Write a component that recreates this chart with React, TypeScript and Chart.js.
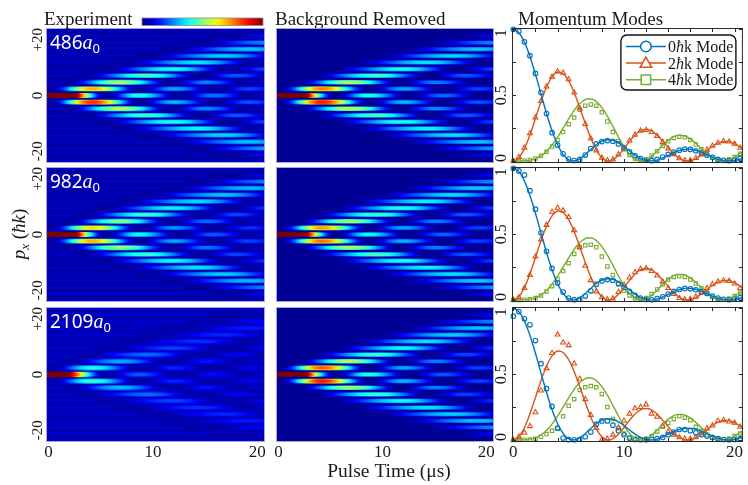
import React, { useEffect, useRef } from 'react';
import { Chart, registerables } from 'chart.js';

Chart.register(...registerables);

// ---------------- data ----------------
const COLUMN_TITLES = ['Experiment', 'Background Removed', 'Momentum Modes'];
const SCATTERING_LENGTHS = ['486', '982', '2109'];
const MODE_ORDERS = ['0', '2', '4'];
const TIME_LABEL_TICKS = [0, 10, 20];
const TIME_MINOR_TICKS = [0, 2, 4, 6, 8, 10, 12, 14, 16, 18, 20];
const MOMENTUM_TICKS = [20, 0, -20];
const MOMENTUM_TICK_LABELS = ['+20', '0', '-20'];
const POPULATION_TICKS = [0, 0.5, 1];
const POPULATION_TICK_LABELS = ['0', '0.5', '1'];
const POPULATION_MINOR_TICKS = [0, 0.25, 0.5, 0.75, 1];
const ORDER_STEP = 2.37;
const FLOOR_ORDERS = [-10, -9, -8, -7, -6, -5, -4, -3, -2, -1, 0, 1, 2, 3, 4, 5, 6, 7, 8, 9, 10];

// fitted curves (population vs pulse time)
const FIT_TIME = [0, 0.449, 0.899, 1.348, 1.798, 2.247, 2.697, 3.146, 3.596, 4.045, 4.494, 4.944, 5.393, 5.843, 6.292, 6.742, 7.191, 7.64, 8.09, 8.539, 8.989, 9.438, 9.888, 10.337, 10.787, 11.236, 11.685, 12.135, 12.584, 13.034, 13.483, 13.933, 14.382, 14.831, 15.281, 15.73, 16.18, 16.629, 17.079, 17.528, 17.978, 18.427, 18.876, 19.326, 19.775, 20.225, 20.674];
const FIT_0HK = [1.0, 0.98, 0.922, 0.832, 0.716, 0.586, 0.45, 0.321, 0.207, 0.116, 0.05, 0.012, 0.0, 0.009, 0.034, 0.068, 0.103, 0.133, 0.154, 0.162, 0.158, 0.142, 0.117, 0.088, 0.058, 0.032, 0.012, 0.002, 0.001, 0.008, 0.023, 0.041, 0.059, 0.075, 0.086, 0.09, 0.087, 0.078, 0.063, 0.046, 0.03, 0.015, 0.005, 0.0, 0.002, 0.008, 0.019];
const FIT_2HK = [0, 0.02, 0.077, 0.164, 0.272, 0.387, 0.497, 0.587, 0.65, 0.676, 0.665, 0.618, 0.541, 0.443, 0.336, 0.23, 0.137, 0.064, 0.018, 0.0, 0.009, 0.038, 0.082, 0.132, 0.178, 0.215, 0.236, 0.239, 0.224, 0.193, 0.153, 0.109, 0.066, 0.031, 0.009, 0.0, 0.006, 0.024, 0.051, 0.081, 0.11, 0.133, 0.147, 0.149, 0.14, 0.12, 0.095];
const FIT_4HK = [0, 0.0, 0.001, 0.004, 0.012, 0.026, 0.051, 0.086, 0.132, 0.187, 0.249, 0.312, 0.372, 0.421, 0.456, 0.473, 0.468, 0.441, 0.396, 0.335, 0.265, 0.193, 0.125, 0.068, 0.027, 0.004, 0.001, 0.015, 0.043, 0.079, 0.118, 0.153, 0.18, 0.195, 0.195, 0.182, 0.157, 0.124, 0.088, 0.054, 0.026, 0.007, 0.0, 0.005, 0.02, 0.042, 0.068];

// measured populations
const DATA_TIME = [0, 0.5, 1, 1.5, 2, 2.5, 3, 3.5, 4, 4.5, 5, 5.5, 6, 6.5, 7, 7.5, 8, 8.5, 9, 9.5, 10, 10.5, 11, 11.5, 12, 12.5, 13, 13.5, 14, 14.5, 15, 15.5, 16, 16.5, 17, 17.5, 18, 18.5, 19, 19.5, 20, 20.5];
const R1_0HK = [1.0, 0.985, 0.905, 0.8, 0.665, 0.52, 0.36, 0.215, 0.12, 0.055, 0.015, 0.004, 0.012, 0.045, 0.095, 0.13, 0.148, 0.155, 0.15, 0.13, 0.1, 0.07, 0.04, 0.018, 0.006, 0.003, 0.012, 0.03, 0.05, 0.068, 0.082, 0.09, 0.088, 0.078, 0.062, 0.045, 0.028, 0.012, 0.005, 0.003, 0.008, 0.02];
const R1_2HK = [0, 0.03, 0.1, 0.21, 0.33, 0.455, 0.565, 0.64, 0.68, 0.67, 0.62, 0.52, 0.4, 0.28, 0.17, 0.08, 0.025, 0.005, 0.012, 0.05, 0.1, 0.155, 0.2, 0.23, 0.235, 0.22, 0.19, 0.145, 0.095, 0.052, 0.02, 0.005, 0.006, 0.022, 0.05, 0.085, 0.115, 0.138, 0.15, 0.148, 0.13, 0.1];
const R1_4HK = [0, 0.001, 0.003, 0.008, 0.02, 0.04, 0.07, 0.11, 0.16, 0.22, 0.28, 0.33, 0.39, 0.42, 0.43, 0.42, 0.37, 0.3, 0.22, 0.15, 0.09, 0.045, 0.015, 0.003, 0.012, 0.04, 0.075, 0.115, 0.15, 0.175, 0.185, 0.18, 0.16, 0.125, 0.09, 0.055, 0.025, 0.008, 0.002, 0.012, 0.03, 0.055];
const R2_0HK = [1.0, 0.98, 0.95, 0.83, 0.69, 0.51, 0.37, 0.24, 0.13, 0.06, 0.015, 0.003, 0.005, 0.03, 0.07, 0.12, 0.145, 0.155, 0.15, 0.125, 0.095, 0.065, 0.035, 0.015, 0.004, 0.002, 0.01, 0.025, 0.045, 0.065, 0.08, 0.088, 0.085, 0.078, 0.065, 0.05, 0.03, 0.015, 0.006, 0.003, 0.008, 0.018];
const R2_2HK = [0, 0.02, 0.09, 0.19, 0.33, 0.46, 0.57, 0.67, 0.7, 0.68, 0.63, 0.53, 0.4, 0.26, 0.15, 0.065, 0.02, 0.004, 0.012, 0.06, 0.115, 0.17, 0.21, 0.235, 0.24, 0.22, 0.185, 0.14, 0.09, 0.045, 0.015, 0.004, 0.008, 0.025, 0.055, 0.09, 0.12, 0.14, 0.148, 0.145, 0.125, 0.09];
const R2_4HK = [0, 0, 0.002, 0.006, 0.015, 0.035, 0.065, 0.105, 0.16, 0.22, 0.28, 0.35, 0.4, 0.415, 0.42, 0.4, 0.33, 0.255, 0.19, 0.12, 0.07, 0.035, 0.012, 0.002, 0.015, 0.045, 0.08, 0.12, 0.155, 0.175, 0.18, 0.175, 0.155, 0.125, 0.09, 0.055, 0.025, 0.008, 0.002, 0.01, 0.03, 0.058];
const R3_0HK = [0.94, 0.975, 0.92, 0.875, 0.755, 0.58, 0.39, 0.255, 0.09, 0.015, 0.003, 0.002, 0.005, 0.025, 0.06, 0.12, 0.145, 0.145, 0.113, 0.07, 0.04, 0.013, 0.004, 0.002, 0.003, 0.006, 0.01, 0.02, 0.04, 0.06, 0.08, 0.08, 0.07, 0.055, 0.04, 0.03, 0.02, 0.01, 0.004, 0.002, 0.004, 0.01];
const R3_2HK = [0, 0.025, 0.055, 0.105, 0.21, 0.375, 0.545, 0.66, 0.8, 0.74, 0.72, 0.58, 0.465, 0.31, 0.19, 0.09, 0.002, 0.01, 0.04, 0.095, 0.146, 0.2, 0.24, 0.25, 0.27, 0.2, 0.176, 0.108, 0.063, 0.04, 0.02, 0.01, 0.01, 0.02, 0.05, 0.088, 0.11, 0.146, 0.15, 0.14, 0.13, 0.1];
const R3_4HK = [0, 0, 0.002, 0.004, 0.01, 0.025, 0.045, 0.07, 0.09, 0.18, 0.26, 0.31, 0.38, 0.4, 0.41, 0.4, 0.35, 0.25, 0.16, 0.09, 0.05, 0.02, 0.01, 0.005, 0.01, 0.03, 0.065, 0.1, 0.13, 0.16, 0.18, 0.17, 0.15, 0.1, 0.07, 0.04, 0.02, 0.008, 0.004, 0.01, 0.03, 0.05];

// heat-map streaks: diffraction order, start / peak / end time (µs)
const LOBE_ORDER = [0, 0, 0, 1, 1, 1, 2, 2, 3, 3, 4, 4, 5, 6, 7, 8, 9];
const LOBE_START = [-0.25, 5.4, 12.4, 0, 8.61, 15.77, 1.5, 11.54, 2.7, 14.34, 4.5, 17.05, 6.3, 8.5, 10.8, 13.0, 15.3];
const LOBE_PEAK = [-0.25, 8.6, 15.8, 4.14, 11.98, 19.2, 6.86, 15.1, 9.44, 17.93, 11.96, 20.9, 14.43, 16.85, 19.28, 21.7, 24.1];
const LOBE_END = [5.4, 12.4, 19.4, 8.61, 15.77, 22.86, 11.54, 18.91, 14.34, 21.93, 17.05, 24.8, 19.71, 22.33, 24.9, 27.0, 29.0];
// peak intensity (colour scale units) for +order / -order
const EXP1_UP = [1.8, 0.4, 0.24, 0.7, 0.29, 0.19, 0.54, 0.25, 0.44, 0.21, 0.39, 0.19, 0.35, 0.33, 0.32, 0.27, 0.18];
const EXP1_DN = [null, null, null, 0.84, 0.31, 0.21, 0.56, 0.26, 0.43, 0.21, 0.4, 0.19, 0.37, 0.34, 0.32, 0.29, 0.18];
const BG1_UP = [1.8, 0.4, 0.23, 0.75, 0.29, 0.19, 0.54, 0.25, 0.43, 0.21, 0.39, 0.19, 0.35, 0.34, 0.32, 0.27, 0.18];
const BG1_DN = [null, null, null, 0.86, 0.31, 0.21, 0.56, 0.26, 0.44, 0.21, 0.4, 0.19, 0.37, 0.35, 0.32, 0.29, 0.18];
const EXP2_UP = [1.8, 0.38, 0.21, 0.66, 0.27, 0.17, 0.5, 0.23, 0.42, 0.19, 0.37, 0.17, 0.34, 0.32, 0.31, 0.26, 0.17];
const EXP2_DN = [null, null, null, 0.7, 0.29, 0.19, 0.53, 0.24, 0.42, 0.19, 0.38, 0.17, 0.35, 0.33, 0.31, 0.26, 0.17];
const BG2_UP = [1.8, 0.38, 0.22, 0.72, 0.29, 0.19, 0.53, 0.25, 0.43, 0.21, 0.4, 0.19, 0.37, 0.35, 0.33, 0.28, 0.18];
const BG2_DN = [null, null, null, 0.77, 0.3, 0.19, 0.55, 0.25, 0.44, 0.21, 0.4, 0.19, 0.37, 0.35, 0.33, 0.28, 0.18];
const EXP3_UP = [1.4, 0.21, 0.13, 0.4, 0.16, 0.11, 0.29, 0.14, 0.23, 0.12, 0.19, 0.11, 0.17, 0.16, 0.15, 0.13, 0.1];
const EXP3_DN = [null, null, null, 0.43, 0.16, 0.11, 0.31, 0.14, 0.23, 0.12, 0.19, 0.11, 0.17, 0.16, 0.15, 0.13, 0.1];
const BG3_UP = [1.8, 0.4, 0.21, 0.79, 0.29, 0.19, 0.54, 0.25, 0.42, 0.19, 0.38, 0.17, 0.35, 0.33, 0.32, 0.27, 0.18];
const BG3_DN = [null, null, null, 0.86, 0.31, 0.19, 0.53, 0.25, 0.42, 0.19, 0.38, 0.17, 0.35, 0.33, 0.32, 0.27, 0.18];

// ---------------- styling ----------------
const FIG_W = 748;
const FIG_H = 485;
const SERIF = '"Liberation Serif", "DejaVu Serif", serif';
const SANS = '"Noto Sans", "DejaVu Sans", sans-serif';
const INK = '#1a1a1a';
const MODE_COLORS = ['#0072BD', '#D95319', '#77AC30'];
const MODE_MARKERS = ['circle', 'triangle', 'rect'];
const MODE_MARKER_R = [2.3, 2.8, 2.4];
const COL_X = [[46, 265], [276, 494], [512, 745]];
const ROW_Y = [[28, 163], [167, 302], [307, 442]];

function jet(v: number): string {
  const x = Math.max(0, Math.min(1, v));
  const c = (u: number) => Math.round(255 * Math.max(0, Math.min(1, u)));
  return `rgb(${c(1.5 - Math.abs(4 * x - 3))},${c(1.5 - Math.abs(4 * x - 2))},${c(1.5 - Math.abs(4 * x - 1))})`;
}

type Seg = { t: string; f: string; dy?: number };
function richWidth(ctx: CanvasRenderingContext2D, segs: Seg[]) {
  let w = 0;
  for (const s of segs) { ctx.font = s.f; w += ctx.measureText(s.t).width; }
  return w;
}
function drawRich(ctx: CanvasRenderingContext2D, segs: Seg[], x: number, y: number) {
  let cx = x;
  ctx.textAlign = 'left';
  ctx.textBaseline = 'alphabetic';
  for (const s of segs) {
    ctx.font = s.f;
    ctx.fillText(s.t, cx, y + (s.dy || 0));
    cx += ctx.measureText(s.t).width;
  }
}
function rotatedText(ctx: CanvasRenderingContext2D, text: string, font: string, cx: number, cy: number) {
  ctx.save();
  ctx.translate(cx, cy);
  ctx.rotate(-Math.PI / 2);
  ctx.font = font;
  ctx.textAlign = 'center';
  ctx.textBaseline = 'middle';
  ctx.fillText(text, 0, 0);
  ctx.restore();
}

function padFor(col: number, row: number) {
  return { left: COL_X[col][0], right: FIG_W - COL_X[col][1], top: ROW_Y[row][0], bottom: FIG_H - ROW_Y[row][1] };
}

function lobeBars(up: (number | null)[], dn: (number | null)[]) {
  const out: any[] = [];
  LOBE_ORDER.forEach((n, i) => {
    if (up[i] != null) out.push({ x: [LOBE_START[i], LOBE_END[i]], peak: LOBE_PEAK[i], y: n * ORDER_STEP, v: up[i] });
    if (n > 0 && dn[i] != null) out.push({ x: [LOBE_START[i], LOBE_END[i]], peak: LOBE_PEAK[i], y: -n * ORDER_STEP, v: dn[i] });
  });
  return out;
}

// soft edge of a streak: dims weak colours, keeps saturated ones
function edgeLevel(val: number, gain: number) {
  return val * gain + (1 - gain) * val * val * val;
}

function lobeFill(gain: number, bg: number) {
  return (c: any) => {
    const raw = c.raw;
    const chart = c.chart;
    if (!raw || !chart.chartArea || !Array.isArray(raw.x)) return jet(bg);
    const xs = chart.scales.x;
    const s = raw.x[0], e = raw.x[1];
    const x0 = xs.getPixelForValue(s), x1 = xs.getPixelForValue(e);
    const g = chart.ctx.createLinearGradient(x0, 0, x1, 0);
    const N = 28;
    for (let k = 0; k <= N; k++) {
      const f = k / N;
      const t = s + f * (e - s);
      let m: number;
      if (t <= raw.peak) {
        const r = raw.peak > s ? (t - s) / (raw.peak - s) : 1;
        m = Math.pow(Math.sin((Math.PI / 2) * r), 2.0);
      } else {
        const r = (e - t) / (e - raw.peak);
        m = Math.pow(Math.sin((Math.PI / 2) * r), 1.5);
      }
      const val = Math.min(1, raw.v * m);
      g.addColorStop(f, jet(Math.max(bg, gain >= 1 ? val : edgeLevel(val, gain))));
    }
    return g;
  };
}

type HeatPanel = { kind: 'heat'; col: number; row: number; up: any[]; dn: any[]; floor: number; bg: number; halo: number; haloGain: number };
type ModePanel = { kind: 'modes'; row: number; data: number[][] };

const PANELS: (HeatPanel | ModePanel)[] = [
  { kind: 'heat', col: 0, row: 0, up: EXP1_UP, dn: EXP1_DN, floor: 0.065, bg: 0.035, halo: 4.2, haloGain: 0.62 },
  { kind: 'heat', col: 1, row: 0, up: BG1_UP, dn: BG1_DN, floor: 0, bg: 0.02, halo: 4.0, haloGain: 0.58 },
  { kind: 'modes', row: 0, data: [R1_0HK, R1_2HK, R1_4HK] },
  { kind: 'heat', col: 0, row: 1, up: EXP2_UP, dn: EXP2_DN, floor: 0.065, bg: 0.035, halo: 4.2, haloGain: 0.62 },
  { kind: 'heat', col: 1, row: 1, up: BG2_UP, dn: BG2_DN, floor: 0, bg: 0.02, halo: 4.0, haloGain: 0.58 },
  { kind: 'modes', row: 1, data: [R2_0HK, R2_2HK, R2_4HK] },
  { kind: 'heat', col: 0, row: 2, up: EXP3_UP, dn: EXP3_DN, floor: 0.075, bg: 0.045, halo: 4.8, haloGain: 0.68 },
  { kind: 'heat', col: 1, row: 2, up: BG3_UP, dn: BG3_DN, floor: 0, bg: 0.02, halo: 4.0, haloGain: 0.58 },
  { kind: 'modes', row: 2, data: [R3_0HK, R3_2HK, R3_4HK] },
];

function drawGlobalText(ctx: CanvasRenderingContext2D) {
  ctx.save();
  ctx.fillStyle = INK;
  ctx.font = `19px ${SERIF}`;
  ctx.textAlign = 'left';
  ctx.textBaseline = 'alphabetic';
  ctx.fillText(COLUMN_TITLES[0], 44, 25);
  ctx.fillText(COLUMN_TITLES[1], 275, 25);
  ctx.fillText(COLUMN_TITLES[2], 518, 25);
  // colour bar
  const g = ctx.createLinearGradient(142, 0, 263, 0);
  for (let k = 0; k <= 20; k++) g.addColorStop(k / 20, jet(k / 20));
  ctx.fillStyle = g;
  ctx.fillRect(142, 18, 121, 7.5);
  ctx.strokeStyle = '#8a8a8a';
  ctx.lineWidth = 0.8;
  ctx.strokeRect(142, 18, 121, 7.5);
  // x label
  ctx.fillStyle = INK;
  ctx.font = `19.5px ${SERIF}`;
  ctx.textAlign = 'center';
  ctx.fillText('Pulse Time (μs)', 389, 477);
  // y label
  const segs: Seg[] = [
    { t: 'p', f: `italic 19px ${SERIF}` },
    { t: 'x', f: `italic 13px ${SERIF}`, dy: 4 },
    { t: ' (', f: `19px ${SERIF}` },
    { t: 'ħk', f: `italic 19px ${SERIF}` },
    { t: ')', f: `19px ${SERIF}` },
  ];
  ctx.save();
  ctx.translate(19, 234);
  ctx.rotate(-Math.PI / 2);
  const w = richWidth(ctx, segs);
  drawRich(ctx, segs, -w / 2, 6);
  ctx.restore();
  ctx.restore();
}

function heatConfig(p: HeatPanel) {
  const datasets: any[] = [
    { data: lobeBars(p.up, p.dn), barThickness: 2.6, backgroundColor: lobeFill(1, p.bg), stack: 's', borderWidth: 0 },
    { data: lobeBars(p.up, p.dn), barThickness: p.halo, backgroundColor: lobeFill(p.haloGain, p.bg), stack: 's', borderWidth: 0 },
  ];
  if (p.floor > 0) {
    datasets.push({
      data: FLOOR_ORDERS.map((n) => ({ x: [-0.25, 20.75], y: n * ORDER_STEP })),
      barThickness: 2.6, backgroundColor: jet(p.floor), stack: 's', borderWidth: 0,
    });
  }
  const decor = {
    id: 'heatDecor',
    beforeDatasetsDraw(chart: any) {
      const { ctx, chartArea: a } = chart;
      ctx.save();
      ctx.fillStyle = jet(p.bg);
      ctx.fillRect(a.left, a.top, a.width, a.height);
      ctx.restore();
    },
    afterDraw(chart: any) {
      const { ctx, chartArea: a, scales } = chart;
      ctx.save();
      ctx.strokeStyle = '#a6a6da';
      ctx.lineWidth = 1;
      ctx.strokeRect(a.left + 0.5, a.top + 0.5, a.width - 1, a.height - 1);
      ctx.fillStyle = INK;
      if (p.col === 0) {
        MOMENTUM_TICKS.forEach((v, i) => rotatedText(ctx, MOMENTUM_TICK_LABELS[i], `15px ${SERIF}`, a.left - 8, scales.y.getPixelForValue(v)));
        ctx.fillStyle = '#ffffff';
        drawRich(ctx, [
          { t: SCATTERING_LENGTHS[p.row], f: `19px ${SANS}` },
          { t: 'a', f: `italic 20px ${SERIF}` },
          { t: '0', f: `13px ${SANS}`, dy: 4 },
        ], a.left + 4, a.top + 20.5);
      }
      if (p.row === 2) {
        ctx.fillStyle = INK;
        ctx.font = `17px ${SERIF}`;
        ctx.textAlign = 'center';
        ctx.textBaseline = 'alphabetic';
        TIME_LABEL_TICKS.forEach((t) => ctx.fillText(String(t), scales.x.getPixelForValue(t), 457));
      }
      if (p.col === 0 && p.row === 0) drawGlobalText(ctx);
      ctx.restore();
    },
  };
  return {
    type: 'bar',
    data: { datasets },
    options: {
      indexAxis: 'y',
      animation: false,
      responsive: false,
      events: [],
      layout: { padding: padFor(p.col, p.row) },
      scales: {
        x: { type: 'linear', min: -0.25, max: 20.75, display: false, stacked: false },
        y: { type: 'linear', min: -24.2, max: 24.2, display: false, offset: false },
      },
      plugins: { legend: { display: false }, tooltip: { enabled: false }, title: { display: false } },
    },
    plugins: [decor],
  };
}

function drawLegendMarker(ctx: CanvasRenderingContext2D, style: string, x: number, y: number) {
  ctx.beginPath();
  if (style === 'circle') ctx.arc(x, y, 5.3, 0, Math.PI * 2);
  else if (style === 'triangle') { ctx.moveTo(x, y - 6); ctx.lineTo(x + 5.8, y + 4.2); ctx.lineTo(x - 5.8, y + 4.2); ctx.closePath(); }
  else ctx.rect(x - 4.7, y - 4.7, 9.4, 9.4);
  ctx.fillStyle = '#ffffff';
  ctx.fill();
  ctx.stroke();
}

function modeConfig(p: ModePanel) {
  const fits = [FIT_0HK, FIT_2HK, FIT_4HK];
  const datasets: any[] = [];
  fits.forEach((vals, k) => datasets.push({
    data: FIT_TIME.map((t, i) => ({ x: t, y: vals[i] })),
    showLine: true, borderColor: MODE_COLORS[k], borderWidth: 1.4, pointRadius: 0,
    cubicInterpolationMode: 'monotone', fill: false,
  }));
  p.data.forEach((vals, k) => datasets.push({
    data: DATA_TIME.map((t, i) => ({ x: t, y: vals[i] })),
    showLine: false, pointStyle: MODE_MARKERS[k], pointRadius: MODE_MARKER_R[k],
    pointBorderWidth: 1.1, borderColor: MODE_COLORS[k], pointBorderColor: MODE_COLORS[k],
    backgroundColor: 'rgba(255,255,255,0)', pointBackgroundColor: 'rgba(255,255,255,0)', clip: 4,
  }));
  const decor = {
    id: 'modeDecor',
    afterDraw(chart: any) {
      const { ctx, chartArea: a, scales } = chart;
      ctx.save();
      ctx.strokeStyle = '#2b2b2b';
      ctx.lineWidth = 1;
      ctx.strokeRect(a.left + 0.5, a.top + 0.5, a.width - 1, a.height - 1);
      ctx.beginPath();
      TIME_MINOR_TICKS.forEach((t) => {
        const x = Math.round(scales.x.getPixelForValue(t)) + 0.5;
        ctx.moveTo(x, a.bottom); ctx.lineTo(x, a.bottom - 4);
        ctx.moveTo(x, a.top); ctx.lineTo(x, a.top + 4);
      });
      POPULATION_MINOR_TICKS.forEach((v) => {
        const y = Math.round(scales.y.getPixelForValue(v)) + 0.5;
        ctx.moveTo(a.left, y); ctx.lineTo(a.left + 4, y);
        ctx.moveTo(a.right, y); ctx.lineTo(a.right - 4, y);
      });
      ctx.stroke();
      ctx.fillStyle = INK;
      POPULATION_TICKS.forEach((v, i) => {
        const nudge = v === 0 ? -3 : v === 1 ? 4 : 0;
        rotatedText(ctx, POPULATION_TICK_LABELS[i], `16px ${SERIF}`, a.left - 10.5, scales.y.getPixelForValue(v) + nudge);
      });
      if (p.row === 2) {
        ctx.font = `17px ${SERIF}`;
        ctx.textAlign = 'center';
        ctx.textBaseline = 'alphabetic';
        TIME_LABEL_TICKS.forEach((t) => ctx.fillText(String(t), scales.x.getPixelForValue(t), 457));
      }
      if (p.row === 0) {
        const bx = a.right - 122, by = a.top + 7, bw = 115, bh = 55;
        ctx.beginPath();
        (ctx as any).roundRect(bx, by, bw, bh, 6);
        ctx.fillStyle = '#ffffff';
        ctx.fill();
        ctx.strokeStyle = '#111111';
        ctx.lineWidth = 1.4;
        ctx.stroke();
        MODE_ORDERS.forEach((ord, k) => {
          const y = by + 11.5 + k * 16.6;
          ctx.strokeStyle = MODE_COLORS[k];
          ctx.lineWidth = 1.5;
          ctx.beginPath();
          ctx.moveTo(bx + 5, y); ctx.lineTo(bx + 45, y);
          ctx.stroke();
          drawLegendMarker(ctx, MODE_MARKERS[k], bx + 25, y);
          ctx.fillStyle = INK;
          drawRich(ctx, [
            { t: ord, f: `16px ${SERIF}` },
            { t: 'ħ', f: `italic 16px ${SERIF}` },
            { t: 'k Mode', f: `16px ${SERIF}` },
          ], bx + 47, y + 5.5);
        });
      }
      ctx.restore();
    },
  };
  return {
    type: 'scatter',
    data: { datasets },
    options: {
      animation: false,
      responsive: false,
      events: [],
      layout: { padding: padFor(2, p.row) },
      scales: {
        x: { type: 'linear', min: -0.12, max: 20.75, display: false },
        y: { type: 'linear', min: -0.015, max: 1.01, display: false },
      },
      plugins: { legend: { display: false }, tooltip: { enabled: false }, title: { display: false } },
    },
    plugins: [decor],
  };
}

export default function App() {
  const refs = useRef<(HTMLCanvasElement | null)[]>([]);
  useEffect(() => {
    const charts = PANELS.map((p, i) =>
      new Chart(refs.current[i] as HTMLCanvasElement, (p.kind === 'heat' ? heatConfig(p) : modeConfig(p)) as any)
    );
    return () => charts.forEach((c) => c.destroy());
  }, []);
  return (
    <div style={{ position: 'absolute', left: 0, top: 0, width: FIG_W, height: FIG_H, background: '#ffffff', overflow: 'hidden' }}>
      {PANELS.map((_, i) => (
        <canvas
          key={i}
          ref={(el) => { refs.current[i] = el; }}
          width={FIG_W}
          height={FIG_H}
          style={{ position: 'absolute', left: 0, top: 0, width: FIG_W, height: FIG_H }}
        />
      ))}
    </div>
  );
}
